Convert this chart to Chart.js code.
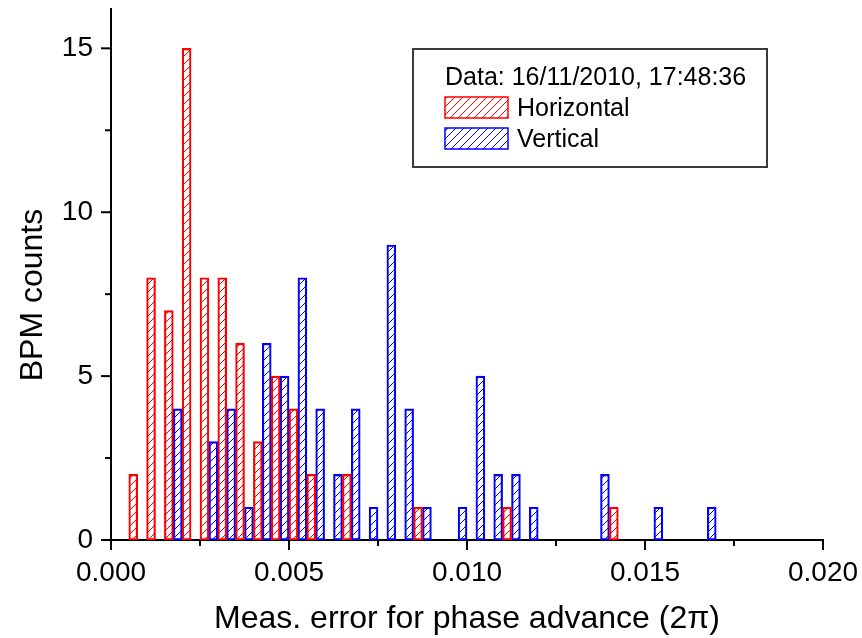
<!DOCTYPE html>
<html><head><meta charset="utf-8">
<script src="https://cdn.jsdelivr.net/npm/chart.js@4/dist/chart.umd.min.js"></script>
<style>html,body{margin:0;padding:0;background:#fff}#wrap{width:862px;height:638px}</style>
</head><body><div id="wrap"><canvas id="c" width="862" height="638"></canvas></div>
<script>
// Bin centres (each bin 0.0005 wide; Horizontal on the left half, Vertical on the right half)
const binCenters = [0.00075,0.00125,0.00175,0.00225,0.00275,0.00325,0.00375,0.00425,0.00475,0.00525,
  0.00575,0.00625,0.00675,0.00725,0.00775,0.00825,0.00875,0.00925,0.00975,0.01025,
  0.01075,0.01125,0.01175,0.01225,0.01275,0.01325,0.01375,0.01425,0.01475,0.01525,
  0.01575,0.01625,0.01675];
const horizontal = [2,8,7,15,8,8,6,3,5,4,2,0,2,0,0,0,1,0,0,0,0,1,0,0,0,0,0,1,0,0,0,0,0];
const vertical   = [0,0,4,0,3,4,1,6,5,8,4,2,4,1,9,4,1,0,1,5,2,2,1,0,0,0,2,0,0,1,0,0,1];
const seriesNames = ['Horizontal','Vertical'];
const legendTitle = 'Data: 16/11/2010, 17:48:36';
const xTitle = 'Meas. error for phase advance (2\u03C0)';
const yTitle = 'BPM counts';

const FONT = "'Liberation Sans', Arial, sans-serif";
Chart.defaults.font.family = FONT;

function hatch(color){
  const c = document.createElement('canvas'); c.width = 8; c.height = 8;
  const g = c.getContext('2d');
  g.strokeStyle = color; g.lineWidth = 1;
  g.beginPath();
  g.moveTo(0,8); g.lineTo(8,0);
  g.moveTo(-1,1); g.lineTo(1,-1);
  g.moveTo(7,9); g.lineTo(9,7);
  g.stroke();
  return document.getElementById('c').getContext('2d').createPattern(c,'repeat');
}
const redHatch = hatch('#ff0000'), blueHatch = hatch('#0000ff');

const toPts = arr => binCenters.map((x,i)=>({x:x, y: arr[i] ? arr[i] : null}));

const tickPlugin = {
  id:'ticksAndLegend',
  afterDraw(chart){
    const ctx = chart.ctx, xs = chart.scales.x, ys = chart.scales.y;
    ctx.save();
    ctx.strokeStyle = '#000'; ctx.lineWidth = 2;
    for (let k=0;k<=8;k++){
      const v = k*0.0025, px = xs.getPixelForValue(v), len = (k%2===0)?10:6;
      ctx.beginPath(); ctx.moveTo(px, ys.bottom); ctx.lineTo(px, ys.bottom+len); ctx.stroke();
    }
    for (let k=0;k<=6;k++){
      const v = k*2.5, py = ys.getPixelForValue(v), len = (k%2===0)?10:6;
      ctx.beginPath(); ctx.moveTo(xs.left, py); ctx.lineTo(xs.left-len, py); ctx.stroke();
    }
    // y axis title
    ctx.save();
    ctx.translate(33, 295); ctx.rotate(-Math.PI/2);
    ctx.fillStyle = '#000'; ctx.font = '32px ' + FONT; ctx.textAlign = 'center'; ctx.textBaseline = 'middle';
    ctx.fillText(yTitle, 0, 0);
    ctx.restore();
    // legend box
    ctx.strokeStyle = '#3a3a3a'; ctx.lineWidth = 2;
    ctx.strokeRect(413, 49, 354, 118);
    ctx.fillStyle = '#000'; ctx.font = '25px ' + FONT; ctx.textBaseline = 'alphabetic'; ctx.textAlign='left';
    ctx.fillText(legendTitle, 445, 85);
    const items = [[redHatch,'#ff0000',97,116],[blueHatch,'#0000ff',128,147]];
    items.forEach((it,i)=>{
      ctx.fillStyle = '#fff'; ctx.fillRect(445,it[2],63,21);
      ctx.fillStyle = it[0]; ctx.fillRect(445,it[2],63,21);
      ctx.strokeStyle = it[1]; ctx.lineWidth = 1.5; ctx.strokeRect(445,it[2],63,21);
      ctx.fillStyle = '#000'; ctx.fillText(seriesNames[i], 517, it[3]);
    });
    ctx.restore();
  }
};

new Chart(document.getElementById('c'), {
  type:'bar',
  data:{ datasets:[
    {label:seriesNames[0], data:toPts(horizontal), backgroundColor:redHatch, borderColor:'#ff0000',
     borderWidth:1.5, borderSkipped:false, categoryPercentage:1, barPercentage:1},
    {label:seriesNames[1], data:toPts(vertical), backgroundColor:blueHatch, borderColor:'#0000ff',
     borderWidth:1.5, borderSkipped:false, categoryPercentage:1, barPercentage:1}
  ]},
  options:{
    responsive:false, animation:false, devicePixelRatio:1,
    layout:{padding:{left:0,top:9,right:39,bottom:0}},
    plugins:{legend:{display:false}, tooltip:{enabled:false}},
    scales:{
      x:{type:'linear', min:0, max:0.02, offset:false,
         grid:{display:false, drawTicks:false},
         border:{display:true, color:'#000', width:2},
         ticks:{stepSize:0.0025, autoSkip:false, maxRotation:0, padding:16, color:'#000',
                font:{size:28},
                callback:(v)=> (Math.round(v/0.0025)%2===0) ? Number(v).toFixed(3) : ''},
         title:{display:true, text:xTitle, color:'#000', font:{size:32}, padding:{top:0,bottom:0}},
         afterFit(s){ s.height = 98; s.paddingLeft = 0; s.paddingRight = 0; }
      },
      y:{min:0, max:16.2,
         grid:{display:false, drawTicks:false},
         border:{display:true, color:'#000', width:2},
         ticks:{stepSize:2.5, includeBounds:false, padding:18, color:'#000', font:{size:28},
                callback:(v)=> (Math.round(v/2.5)%2===0) ? String(Math.round(v)) : ''},
         title:{display:false, text:yTitle},
         afterFit(s){ s.width = 111; s.paddingTop = 0; s.paddingBottom = 0; }
      }
    }
  },
  plugins:[tickPlugin]
});
</script></body></html>
